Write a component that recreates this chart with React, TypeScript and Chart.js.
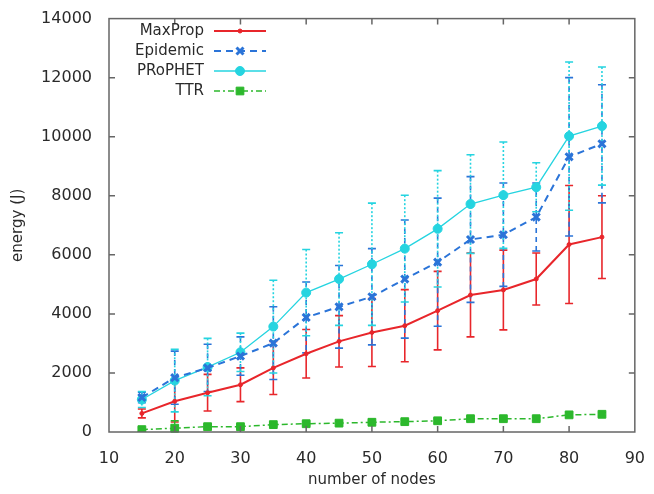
import React, { useEffect, useRef } from "react";
import { Chart, registerables } from "chart.js";

Chart.register(...registerables);

const nodes = [15, 20, 25, 30, 35, 40, 45, 50, 55, 60, 65, 70, 75, 80, 85];

const maxPropMean = [630, 1040, 1330, 1600, 2170, 2650, 3070, 3370, 3600, 4110, 4640, 4810, 5180, 6350, 6600];
const maxPropErr = [150, 700, 620, 570, 900, 820, 870, 1150, 1220, 1330, 1420, 1350, 880, 2000, 1400];

const epidemicMean = [1170, 1840, 2170, 2570, 3010, 3880, 4240, 4580, 5180, 5750, 6520, 6680, 7280, 9320, 9760];
const epidemicErr = [180, 900, 800, 650, 1230, 1200, 1400, 1630, 2000, 2170, 2130, 1750, 1150, 2680, 2000];

const prophetMean = [1100, 1740, 2200, 2700, 3570, 4720, 5180, 5680, 6210, 6880, 7720, 8020, 8290, 10020, 10360];
const prophetErr = [270, 1060, 970, 650, 1570, 1460, 1570, 2070, 1810, 1970, 1670, 1800, 830, 2510, 2000];

const ttrMean = [80, 130, 180, 180, 250, 280, 300, 330, 350, 380, 450, 450, 450, 580, 600];
const ttrErr = [60, 250, 60, 50, 50, 60, 60, 60, 60, 70, 70, 70, 60, 80, 60];

const seriesNames = ["MaxProp", "Epidemic", "PRoPHET", "TTR"];

const xTicks = [10, 20, 30, 40, 50, 60, 70, 80, 90];
const yTicks = [0, 2000, 4000, 6000, 8000, 10000, 12000, 14000];

const FONT = "'DejaVu Sans', sans-serif";
const TEXT = "#2a2a2a";

function drawMarker(ctx: CanvasRenderingContext2D, ds: any, px: number, py: number) {
  const style = ds.pointStyle;
  const r = ds.pointRadius;
  ctx.save();
  ctx.setLineDash([]);
  ctx.fillStyle = ds.pointBackgroundColor;
  ctx.strokeStyle = ds.pointBorderColor;
  ctx.lineWidth = ds.pointBorderWidth;
  ctx.beginPath();
  if (style === "circle") {
    ctx.arc(px, py, r, 0, Math.PI * 2);
    ctx.fill();
    ctx.stroke();
  } else if (style === "crossRot") {
    ctx.moveTo(px - r * 0.7, py - r * 0.7);
    ctx.lineTo(px + r * 0.7, py + r * 0.7);
    ctx.moveTo(px - r * 0.7, py + r * 0.7);
    ctx.lineTo(px + r * 0.7, py - r * 0.7);
    ctx.stroke();
  } else {
    ctx.rect(px - r * 0.7, py - r * 0.7, r * 1.4, r * 1.4);
    ctx.fill();
    ctx.stroke();
  }
  ctx.restore();
}

const errorBarPlugin = {
  id: "errorBars",
  beforeDatasetsDraw(chart: any) {
    const { ctx } = chart;
    const x = chart.scales.x;
    const y = chart.scales.y;
    chart.data.datasets.forEach((ds: any) => {
      const errs: number[] = ds.errors;
      if (!errs) return;
      ctx.save();
      ctx.strokeStyle = ds.borderColor;
      ctx.lineWidth = ds.errWidth;
      ctx.setLineDash(ds.errDash);
      ds.data.forEach((p: any, j: number) => {
        const px = x.getPixelForValue(p.x);
        const top = y.getPixelForValue(p.y + errs[j]);
        const bot = y.getPixelForValue(Math.max(0, p.y - errs[j]));
        ctx.beginPath();
        ctx.moveTo(px, top);
        ctx.lineTo(px, bot);
        ctx.stroke();
        ctx.beginPath();
        ctx.setLineDash([]);
        ctx.moveTo(px - 4, top);
        ctx.lineTo(px + 4, top);
        ctx.moveTo(px - 4, bot);
        ctx.lineTo(px + 4, bot);
        ctx.stroke();
        ctx.setLineDash(ds.errDash);
      });
      ctx.restore();
    });
  },
};

const framePlugin = {
  id: "frame",
  afterDraw(chart: any) {
    const { ctx, chartArea: a } = chart;
    const x = chart.scales.x;
    const y = chart.scales.y;
    ctx.save();
    ctx.strokeStyle = "#666";
    ctx.lineWidth = 1.5;
    ctx.setLineDash([]);
    ctx.strokeRect(a.left, a.top, a.right - a.left, a.bottom - a.top);
    ctx.beginPath();
    xTicks.slice(1, -1).forEach((v) => {
      const px = x.getPixelForValue(v);
      ctx.moveTo(px, a.bottom);
      ctx.lineTo(px, a.bottom - 6);
      ctx.moveTo(px, a.top);
      ctx.lineTo(px, a.top + 6);
    });
    yTicks.slice(1, -1).forEach((v) => {
      const py = y.getPixelForValue(v);
      ctx.moveTo(a.left, py);
      ctx.lineTo(a.left + 6, py);
      ctx.moveTo(a.right, py);
      ctx.lineTo(a.right - 6, py);
    });
    ctx.stroke();

    // legend
    const rows = [31, 51, 71, 91];
    ctx.font = `15px ${FONT}`;
    ctx.textAlign = "right";
    ctx.textBaseline = "middle";
    chart.data.datasets.forEach((ds: any, i: number) => {
      const ry = rows[i];
      ctx.fillStyle = TEXT;
      ctx.fillText(seriesNames[i], 204, ry);
      ctx.save();
      ctx.strokeStyle = ds.borderColor;
      ctx.lineWidth = ds.borderWidth;
      ctx.setLineDash(ds.borderDash || []);
      ctx.beginPath();
      ctx.moveTo(214, ry);
      ctx.lineTo(266, ry);
      ctx.stroke();
      ctx.restore();
      drawMarker(ctx, ds, 240, ry);
    });
    ctx.restore();
  },
};

function toPts(vals: number[]) {
  return vals.map((v, i) => ({ x: nodes[i], y: v }));
}

export default function App() {
  const ref = useRef<HTMLCanvasElement | null>(null);

  useEffect(() => {
    if (!ref.current) return;
    const red = "#e8262b";
    const blue = "#2b74d8";
    const cyan = "#25d4e0";
    const green = "#2cb82c";
    const chart = new Chart(ref.current, {
      type: "line",
      data: {
        datasets: [
          {
            label: seriesNames[0],
            data: toPts(maxPropMean),
            errors: maxPropErr,
            errWidth: 1.6,
            errDash: [],
            borderColor: red,
            backgroundColor: red,
            borderWidth: 2,
            pointStyle: "circle",
            pointRadius: 2,
            pointBackgroundColor: red,
            pointBorderColor: red,
            pointBorderWidth: 1,
          },
          {
            label: seriesNames[1],
            data: toPts(epidemicMean),
            errors: epidemicErr,
            errWidth: 1.6,
            errDash: [5, 4],
            borderColor: blue,
            backgroundColor: blue,
            borderWidth: 2,
            borderDash: [7, 5],
            pointStyle: "crossRot",
            pointRadius: 5,
            pointBackgroundColor: blue,
            pointBorderColor: blue,
            pointBorderWidth: 3,
          },
          {
            label: seriesNames[2],
            data: toPts(prophetMean),
            errors: prophetErr,
            errWidth: 1.6,
            errDash: [2, 2],
            borderColor: cyan,
            backgroundColor: cyan,
            borderWidth: 1.3,
            pointStyle: "circle",
            pointRadius: 4.5,
            pointBackgroundColor: cyan,
            pointBorderColor: cyan,
            pointBorderWidth: 1,
          },
          {
            label: seriesNames[3],
            data: toPts(ttrMean),
            errors: ttrErr,
            errWidth: 1.4,
            errDash: [4, 2, 1, 2],
            borderColor: green,
            backgroundColor: green,
            borderWidth: 1.5,
            borderDash: [6, 3, 2, 3],
            pointStyle: "rect",
            pointRadius: 5.5,
            pointBackgroundColor: green,
            pointBorderColor: green,
            pointBorderWidth: 1,
          },
        ] as any,
      },
      options: {
        responsive: false,
        animation: false,
        events: [],
        layout: { padding: { left: 0, top: 13, right: 12, bottom: 0 } },
        plugins: { legend: { display: false }, tooltip: { enabled: false } },
        scales: {
          x: {
            type: "linear",
            min: 10,
            max: 90,
            afterBuildTicks: (s: any) => {
              s.ticks = xTicks.map((v) => ({ value: v }));
            },
            afterFit: (s: any) => {
              s.height = 62;
            },
            grid: { display: false },
            border: { display: false },
            ticks: {
              color: TEXT,
              font: { family: FONT, size: 16 },
              padding: 9,
              maxRotation: 0,
              callback: (v: any) => String(v),
            },
            title: {
              display: true,
              text: "number of nodes",
              color: TEXT,
              font: { family: FONT, size: 15 },
              padding: { top: 0, bottom: 5 },
            },
          },
          y: {
            type: "linear",
            min: 0,
            max: 14000,
            afterBuildTicks: (s: any) => {
              s.ticks = yTicks.map((v) => ({ value: v }));
            },
            afterFit: (s: any) => {
              s.width = 109;
            },
            grid: { display: false },
            border: { display: false },
            ticks: {
              color: TEXT,
              font: { family: FONT, size: 16 },
              padding: 9,
              callback: (v: any) => String(v),
            },
            title: {
              display: true,
              text: "energy (J)",
              color: TEXT,
              font: { family: FONT, size: 15 },
              padding: { top: 9, bottom: 0 },
            },
          },
        },
      } as any,
      plugins: [errorBarPlugin, framePlugin],
    });
    return () => chart.destroy();
  }, []);

  return (
    <div style={{ position: "absolute", left: 0, top: 0, width: 654, height: 494, background: "#fff" }}>
      <canvas ref={ref} width={654} height={494} />
    </div>
  );
}
